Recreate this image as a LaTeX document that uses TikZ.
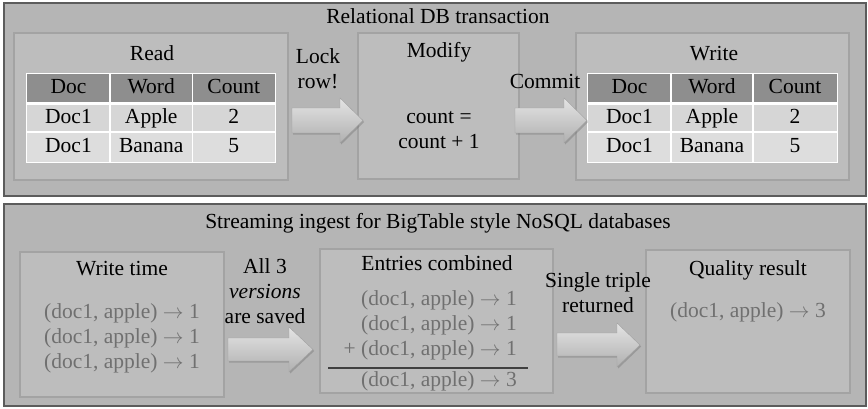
\documentclass[tikz,border=0pt]{standalone}
\usepackage{fontspec}
\setmainfont{Liberation Serif}
\usetikzlibrary{shadows}

\definecolor{panelbg}{RGB}{181,181,181}
\definecolor{panelline}{RGB}{92,92,92}
\definecolor{stagebg}{RGB}{189,189,189}
\definecolor{stageline}{RGB}{163,163,163}
\definecolor{headcell}{RGB}{142,142,142}
\definecolor{bodycellA}{RGB}{214,214,214}
\definecolor{bodycellB}{RGB}{221,221,221}
\definecolor{dimtext}{RGB}{112,112,112}
\definecolor{arrowtop}{RGB}{228,228,228}
\definecolor{arrowmid}{RGB}{206,206,206}
\definecolor{arrowbot}{RGB}{176,176,176}
\definecolor{arrowedge}{RGB}{160,160,160}

\tikzset{
  panel/.style={draw=panelline, fill=panelbg, line width=1.2pt, inner sep=0pt},
  stage/.style={draw=stageline, fill=stagebg, line width=2pt, inner sep=0pt},
  lbl/.style={font=\fontsize{21.5}{25}\selectfont, inner sep=0pt,
              text height=14pt, text depth=4pt},
  dim/.style={lbl, text=dimtext},
  blockarrow/.style={top color=arrowtop, middle color=arrowmid, bottom color=arrowbot,
                     draw=arrowedge, line width=0.4pt,
                     drop shadow={shadow xshift=1.2pt, shadow yshift=-1.5pt,
                                  opacity=0.35, fill=black!60}},
}

% Word count table: prefix, four column borders
\newcommand\wordtable[5]{%
  \fill[white] (#2-1,73) rectangle (#5+1,163);
  \fill[headcell] (#2,74) rectangle (#3-0.8,102);
  \fill[headcell] (#3+0.8,74) rectangle (#4-0.8,102);
  \fill[headcell] (#4+0.8,74) rectangle (#5,102);
  \fill[bodycellA] (#2,105) rectangle (#3-0.8,132-0.8);
  \fill[bodycellA] (#3+0.8,105) rectangle (#4-0.8,132-0.8);
  \fill[bodycellA] (#4+0.8,105) rectangle (#5,132-0.8);
  \fill[bodycellB] (#2,132+0.8) rectangle (#3-0.8,162);
  \fill[bodycellB] (#3+0.8,132+0.8) rectangle (#4-0.8,162);
  \fill[bodycellB] (#4+0.8,132+0.8) rectangle (#5,162);
  \node[lbl] (#1-h1) at ({(#2+#3)/2},88) {Doc};
  \node[lbl] (#1-h2) at ({(#3+#4)/2},88) {Word};
  \node[lbl] (#1-h3) at ({(#4+#5)/2},88) {Count};
  \node[lbl] (#1-a1) at ({(#2+#3)/2},118) {Doc1};
  \node[lbl] (#1-a2) at ({(#3+#4)/2},118) {Apple};
  \node[lbl] (#1-a3) at ({(#4+#5)/2},118) {2};
  \node[lbl] (#1-b1) at ({(#2+#3)/2},147) {Doc1};
  \node[lbl] (#1-b2) at ({(#3+#4)/2},147) {Banana};
  \node[lbl] (#1-b3) at ({(#4+#5)/2},147) {5};
}

\begin{document}
\begin{tikzpicture}[x=1pt, y=-1pt]
\useasboundingbox (0,0) rectangle (868,408);

% ---------- relational transaction ----------
\node[panel, minimum width=862pt, minimum height=193pt] (relpanel) at (435,99.5) {};
\node[lbl] (reltitle) at (438,18) {Relational DB transaction};

\node[stage, minimum width=274pt, minimum height=147pt] (read) at (151,106.5) {};
\node[stage, minimum width=161pt, minimum height=146pt] (modify) at (438.5,106) {};
\node[stage, minimum width=273pt, minimum height=147pt] (write) at (712.5,106.5) {};

\node[lbl] (readtitle) at (152,55) {Read};
\node[lbl] (modtitle) at (439,52) {Modify};
\node[lbl] (writetitle) at (714,55) {Write};

\wordtable{rd}{27}{110}{192.5}{275}
\wordtable{wr}{588}{671}{753}{837}

\node[lbl] (modexpr1) at (439,118) {count =};
\node[lbl] (modexpr2) at (439,143) {count + 1};

% lock and commit arrows
\path[blockarrow] (292,108) -- (340,108) -- (340,98) -- (363,120.5)
  -- (340,143) -- (340,133) -- (292,133) -- cycle;
\path[blockarrow] (515,108) -- (564,108) -- (564,98) -- (587,120.5)
  -- (564,143) -- (564,133) -- (515,133) -- cycle;
\node[lbl] (lock1) at (318,58) {Lock};
\node[lbl] (lock2) at (318,83) {row!};
\node[lbl] (commit) at (545,83) {Commit};

% ---------- streaming ingest ----------
\node[panel, minimum width=862pt, minimum height=202pt] (nosqlpanel) at (435,305) {};
\node[lbl] (nosqltitle) at (438,223) {Streaming ingest for BigTable style NoSQL databases};

\node[stage, minimum width=204pt, minimum height=145pt] (wtime) at (122,324.5) {};
\node[stage, minimum width=233pt, minimum height=144pt] (combined) at (436.5,321) {};
\node[stage, minimum width=204pt, minimum height=143pt] (quality) at (748,321.5) {};

\node[lbl] (wtimetitle) at (122,270) {Write time};
\node[dim] (wt1) at (122,313) {(doc1, apple) $\rightarrow$ 1};
\node[dim] (wt2) at (122,338) {(doc1, apple) $\rightarrow$ 1};
\node[dim] (wt3) at (122,363) {(doc1, apple) $\rightarrow$ 1};

\node[lbl] (combtitle) at (437,265) {Entries combined};
\node[dim, anchor=east] (cb1) at (517,300) {(doc1, apple) $\rightarrow$ 1};
\node[dim, anchor=east] (cb2) at (517,325) {(doc1, apple) $\rightarrow$ 1};
\node[dim, anchor=east] (cb3) at (517,350) {+ (doc1, apple) $\rightarrow$ 1};
\coordinate (sumleft) at (328,368);
\coordinate (sumright) at (528,368);
\draw[black!75, line width=1.1pt] (sumleft) -- (sumright);
\node[dim, anchor=east] (cbsum) at (517,381) {(doc1, apple) $\rightarrow$ 3};

\node[lbl] (qualtitle) at (748,270) {Quality result};
\node[dim] (qual1) at (748,312) {(doc1, apple) $\rightarrow$ 3};

\path[blockarrow] (228,338) -- (289,338) -- (289,327) -- (313,349.5)
  -- (289,372) -- (289,361) -- (228,361) -- cycle;
\path[blockarrow] (557,333) -- (617,333) -- (617,323) -- (640,345)
  -- (617,367) -- (617,356) -- (557,356) -- cycle;
\node[lbl] (ver1) at (265,268) {All 3};
\node[lbl] (ver2) at (265,293) {\textit{versions}};
\node[lbl] (ver3) at (265,318) {are saved};
\node[lbl] (single1) at (598,282) {Single triple};
\node[lbl] (single2) at (598,307) {returned};

\end{tikzpicture}
\end{document}
